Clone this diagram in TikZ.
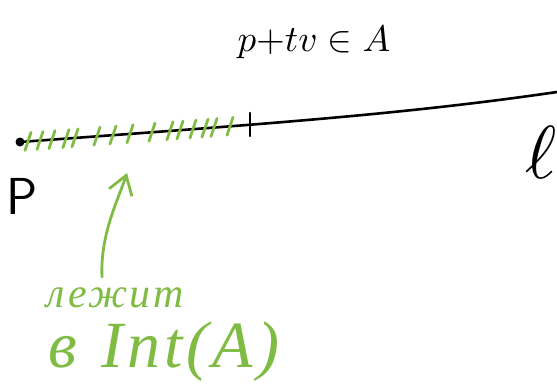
\documentclass[tikz,border=0pt]{standalone}
\usepackage{fontspec}
\usetikzlibrary{arrows.meta}
\newfontfamily\handfont[LetterSpace=6]{Liberation Serif}
\definecolor{hatchgreen}{RGB}{128,188,68}
\begin{document}
\begin{tikzpicture}[x=1pt,y=-1pt,
  ink/.style={line width=2.6pt,line cap=round},
  greenink/.style={draw=hatchgreen,line width=2.8pt,line cap=round}]
\useasboundingbox (0,0) rectangle (557,386);
\node[circle,fill,inner sep=0pt,minimum size=9pt] (P) at (20,142) {};
\coordinate (lend) at (557,92);
\draw[ink] (P.center) .. controls (250,125) and (400,115) .. (lend);
\draw[ink] (250,113) -- (250,136);
\foreach \x in {28,40,52,66,75,97,113,130,152,170,180,193,205,214,230}
  \draw[greenink] ({\x-3},{151-0.075*(\x-20)}) -- ++(6,-18);
\node (Plabel) at (22,196) {\fontsize{52}{52}\selectfont\sffamily P};
\node[scale=7.5] (ell) at (541,152) {$\ell$};
\node[scale=3.7] (cond) at (314,42) {$p{+}tv\in A$};
\node[text=hatchgreen] (lies) at (115,298) {\handfont\itshape\fontsize{42}{42}\selectfont лежит};
\node[text=hatchgreen] (inint) at (164,352) {\handfont\itshape\fontsize{66}{66}\selectfont в\hspace{24pt}Int(A)};
\coordinate (tail) at (102,277);
\coordinate (tip) at (127,173);
\draw[greenink,-{Straight Barb[length=18pt,width=24pt]}] (tail) .. controls (100,235) and (118,200) .. (tip);
\end{tikzpicture}
\end{document}
